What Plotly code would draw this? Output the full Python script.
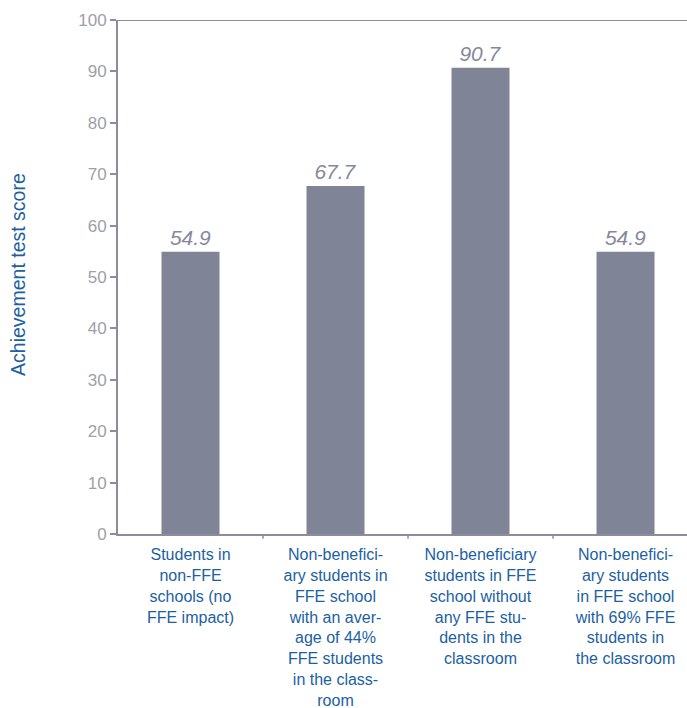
import plotly.graph_objects as go

categories = [
    "Students in<br>non-FFE<br>schools (no<br>FFE impact)",
    "Non-benefici-<br>ary students in<br>FFE school<br>with an aver-<br>age of 44%<br>FFE students<br>in the class-<br>room",
    "Non-beneficiary<br>students in FFE<br>school without<br>any FFE stu-<br>dents in the<br>classroom",
    "Non-benefici-<br>ary students<br>in FFE school<br>with 69% FFE<br>students in<br>the classroom",
]
scores = [54.9, 67.7, 90.7, 54.9]
score_labels = ["54.9", "67.7", "90.7", "54.9"]
y_ticks = [0, 10, 20, 30, 40, 50, 60, 70, 80, 90, 100]

BLUE = "#1c5fa2"
AXIS = "#8c8c9e"
BAR = "#7f8497"
FONT = "Liberation Sans, Arial, sans-serif"

fig = go.Figure(go.Bar(
    x=list(range(len(categories))),
    y=scores,
    width=0.4,
    marker=dict(color=BAR, line=dict(width=0)),
    text=score_labels,
    textposition="outside",
    textfont=dict(family=FONT, size=21, color="#86889a", style="italic"),
    cliponaxis=False,
))

fig.update_layout(
    width=687, height=708,
    margin=dict(l=118, r=0, t=20, b=174),
    paper_bgcolor="white", plot_bgcolor="white",
    showlegend=False,
    font=dict(family=FONT),
    xaxis=dict(
        range=[-0.5, 3.424],
        tickmode="array",
        tickvals=list(range(len(categories))),
        ticktext=categories,
        showline=True, linecolor=AXIS, linewidth=2,
        showgrid=False, zeroline=False,
        ticks="",
        ticklabelstandoff=5,
        tickfont=dict(family=FONT, size=16, color=BLUE),
        automargin=False,
        fixedrange=True,
    ),
    yaxis=dict(
        range=[0, 100],
        tickvals=y_ticks,
        showline=True, linecolor=AXIS, linewidth=2,
        showgrid=False, zeroline=False,
        ticks="outside", ticklen=6, tickcolor=AXIS, tickwidth=1.5,
        tickfont=dict(family=FONT, size=17, color="#a0a0a6"),
        automargin=False,
    ),
    bargap=0.6,
)

# category boundary ticks on the x axis
for b in [0.5, 1.5, 2.5]:
    fig.add_shape(type="line", xref="x", yref="paper", x0=b, x1=b, y0=0, y1=-0.009,
                  line=dict(color=AXIS, width=1.5))

# top frame line at 100
fig.add_shape(type="line", xref="paper", yref="y", x0=0, x1=1, y0=100, y1=100,
              line=dict(color=AXIS, width=2))

fig.add_annotation(
    text="Achievement test score",
    xref="paper", yref="paper", x=-99.5 / 569, y=0.505,
    xanchor="center", yanchor="middle", textangle=-90,
    showarrow=False, font=dict(family=FONT, size=19.5, color=BLUE),
)

fig.write_html("out.html")
